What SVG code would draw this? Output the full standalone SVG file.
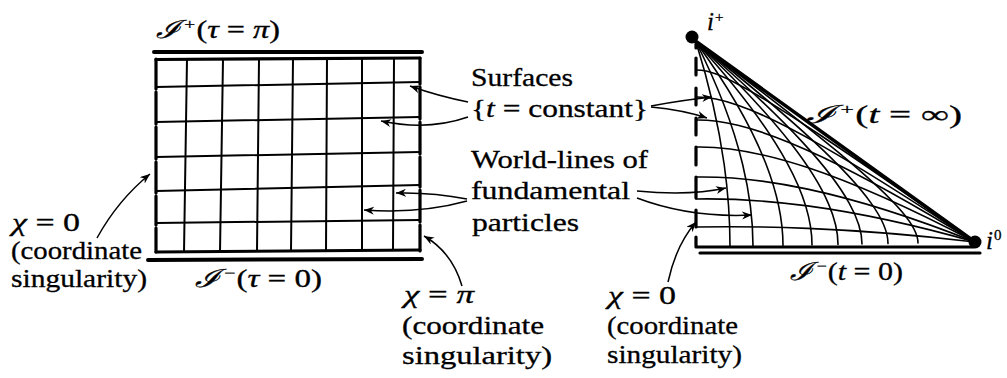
<svg xmlns="http://www.w3.org/2000/svg" width="1007" height="378" viewBox="0 0 1007 378">
<defs>
<style>
.ln{stroke:#000;fill:none;stroke-linecap:round;stroke-linejoin:round}
.grid{stroke-width:2}
.edge{stroke-width:3.2}
.bar{stroke-width:4}
.rg{stroke-width:1.6}
.conn{stroke:#000;stroke-width:1.5;fill:none;marker-end:url(#ah)}
text{font-family:"Liberation Serif","Times New Roman",serif;font-size:25px;fill:#000;stroke:#000;stroke-width:0.3}
.it{font-style:italic}
.sup{font-size:15px}
</style>
<marker id="ah" markerWidth="12" markerHeight="10" refX="10" refY="4" orient="auto" markerUnits="userSpaceOnUse">
<path d="M0,0 L10,4 L0,8 L3,4 Z" fill="#000"/>
</marker>
</defs>
<rect width="1007" height="378" fill="#fff"/>

<g id="left-diagram" class="ln">
<path class="bar" d="M154,52 H422"/>
<path class="edge" d="M156,59.5 L420,58"/>
<path class="edge" d="M156,252 L420,250"/>
<path class="bar" d="M148,260 L422,259"/>
<path class="edge" d="M156,59 V89 M156,92 V124 M156,127 V159 M156,162 V193 M156,196 V225 M156,228 V252"/>
<path class="edge" d="M420,58 V84 M420,87 V119 M420,122 V154 M420,157 V187 M420,190 V222 M420,225 V251"/>
<path class="grid" d="M187,59 L184,252 M223,59 L220,252 M259,59 L257,251 M293,59 L291,251 M327,58 L326,251 M362,58 L362,250 M394,58 L393,250"/>
<path class="grid" d="M156,87 L420,82 M156,122 L420,117 M156,157 L420,152 M156,191 L420,185 M156,223 L420,220"/>
</g>

<g id="right-diagram" class="ln">
<path class="edge" d="M696,44 V48 M696,58 V75 M696,88 V105 M696,118 V135 M696,147 V165 M696,177 V198 M696,210 V227 M696,237 V247 L973,247"/>
<path class="edge" d="M700,253 L980,253"/>
<path stroke-width="3.6" d="M694,40 L975,242"/>
<g class="rg">
<path d="M696,70 C710,69.8 723.9,76.9 737.9,84.2 C765.8,98.8 793.7,117.4 821.6,136 C872.7,170.1 923.9,206 975,242"/>
<path d="M696,97 C710,96.8 723.9,100.3 737.9,105.2 C765.8,114.9 793.7,129.7 821.6,145.6 C872.7,174.7 923.9,208 975,242"/>
<path d="M696,120 C710,119.8 723.9,121.9 737.9,125.3 C765.8,132 793.7,143.6 821.6,156.8 C872.7,180.9 923.9,210.8 975,242"/>
<path d="M696,147 C733.2,146.3 770.4,155.3 807.6,167.6 C863.4,186.1 919.2,212.8 975,242"/>
<path d="M696,177 C733.2,176.3 770.4,181.2 807.6,189.1 C863.4,201 919.2,219.8 975,242"/>
<path d="M696,199 C733.2,198.3 770.4,201 807.6,205.9 C863.4,213.4 919.2,226.1 975,242"/>
<path d="M696,227 C733.2,226.3 770.4,226.8 807.6,228.4 C863.4,230.7 919.2,235.4 975,242"/>
<path d="M730,246.4 C730,219.1 728,191.8 724.2,164.5 C718.4,123.6 708.8,82.8 696,42"/>
<path d="M753,246 C753,218.7 749.2,191.4 742.6,164.2 C732.7,123.3 716.5,82.6 696,42"/>
<path d="M783,245.4 C783,218.1 776.4,190.9 765.9,163.8 C750.1,123 725.4,82.5 696,42"/>
<path d="M812,244.9 C812,217.6 802,190.4 787.3,163.4 C765.3,122.8 732.8,82.3 696,42"/>
<path d="M838,244.5 C838,230.8 834.3,217.2 828.4,203.6 C819.7,183.3 806.2,163 790.4,142.8 C764.1,109.1 731.3,75.5 696,42"/>
<path d="M862,244 C862,230.4 856.8,216.8 849.3,203.3 C838.1,183 821.6,162.8 802.9,142.6 C771.9,109 734.9,75.5 696,42"/>
<path d="M888,243.6 C888,229.9 880.6,216.4 870.9,202.9 C856.5,182.6 836.4,162.5 814.8,142.4 C778.8,108.9 738,75.4 696,42"/>
<path d="M918,243 C918,232.8 911,222.7 902.6,212.6 C885.8,192.4 862.3,172.3 838.1,152.2 C793.7,115.4 745,78.7 696,42"/>
</g>
</g>
<g id="i-plus"><circle cx="692" cy="37" r="6.5" fill="#000"/><text x="707" y="30"><tspan class="it">i</tspan><tspan class="sup" dx="1" dy="-8">+</tspan></text></g>
<g id="i-zero"><circle cx="975" cy="242" r="6.5" fill="#000"/><text x="986" y="249"><tspan class="it">i</tspan><tspan class="sup" dx="1" dy="-9">0</tspan></text></g>

<g id="connectors">
<path class="conn" d="M468,102 Q438,96 410,86"/>
<path class="conn" d="M468,117 Q428,131 381,121"/>
<path class="conn" d="M651,106 Q683,100 712,97"/>
<path class="conn" d="M651,107 Q683,110 707,118"/>
<path class="conn" d="M467,199 Q432,192 396,193"/>
<path class="conn" d="M467,201 Q420,214 364,210"/>
<path class="conn" d="M637,191 Q690,196 726,188"/>
<path class="conn" d="M637,198 Q690,218 752,215"/>
<path class="conn" d="M97,238 Q118,200 150,174"/>
<path class="conn" d="M462,286 Q452,252 424,236"/>
<path class="conn" d="M668,282 Q676,245 696,222"/>
</g>

<g id="label-scri-plus-left"><text x="156" y="38" textLength="124" lengthAdjust="spacingAndGlyphs"><tspan class="it">ℐ</tspan><tspan class="sup" dx="3" dy="-9">+</tspan><tspan dx="1" dy="9">(</tspan><tspan class="it">τ</tspan> = <tspan class="it">π</tspan>)</text></g>
<g id="label-scri-minus-left"><text x="195" y="287" textLength="127" lengthAdjust="spacingAndGlyphs"><tspan class="it">ℐ</tspan><tspan class="sup" dx="3" dy="-9">−</tspan><tspan dx="1" dy="9">(</tspan><tspan class="it">τ</tspan> = 0)</text></g>
<g id="label-chi0-left">
<text x="12" y="231" textLength="68" lengthAdjust="spacingAndGlyphs"><tspan class="it">χ</tspan> = 0</text>
<text x="11" y="259" textLength="131" lengthAdjust="spacingAndGlyphs">(coordinate</text>
<text x="11" y="287" textLength="136" lengthAdjust="spacingAndGlyphs">singularity)</text>
</g>
<g id="label-chipi">
<text x="404" y="303" textLength="70" lengthAdjust="spacingAndGlyphs"><tspan class="it">χ</tspan> = <tspan class="it">π</tspan></text>
<text x="402" y="334" textLength="142" lengthAdjust="spacingAndGlyphs">(coordinate</text>
<text x="402" y="364" textLength="150" lengthAdjust="spacingAndGlyphs">singularity)</text>
</g>
<g id="label-surfaces">
<text x="471" y="86" textLength="102" lengthAdjust="spacingAndGlyphs">Surfaces</text>
<text x="471" y="117" textLength="177" lengthAdjust="spacingAndGlyphs">{<tspan class="it">t</tspan> = constant}</text>
</g>
<g id="label-worldlines">
<text x="471" y="168" textLength="177" lengthAdjust="spacingAndGlyphs">World-lines of</text>
<text x="471" y="199" textLength="159" lengthAdjust="spacingAndGlyphs">fundamental</text>
<text x="472" y="231" textLength="107" lengthAdjust="spacingAndGlyphs">particles</text>
</g>
<g id="label-chi0-right">
<text x="608" y="304" textLength="68" lengthAdjust="spacingAndGlyphs"><tspan class="it">χ</tspan> = 0</text>
<text x="607" y="334" textLength="131" lengthAdjust="spacingAndGlyphs">(coordinate</text>
<text x="607" y="363" textLength="135" lengthAdjust="spacingAndGlyphs">singularity)</text>
</g>
<g id="label-scri-plus-right"><text x="806" y="123" textLength="156" lengthAdjust="spacingAndGlyphs"><tspan class="it">ℐ</tspan><tspan class="sup" dx="3" dy="-9">+</tspan><tspan dx="1" dy="9">(</tspan><tspan class="it">t</tspan> = ∞)</text></g>
<g id="label-scri-minus-right"><text x="790" y="280" textLength="113" lengthAdjust="spacingAndGlyphs"><tspan class="it">ℐ</tspan><tspan class="sup" dx="3" dy="-9">−</tspan><tspan dx="1" dy="9">(</tspan><tspan class="it">t</tspan> = 0)</text></g>
</svg>
